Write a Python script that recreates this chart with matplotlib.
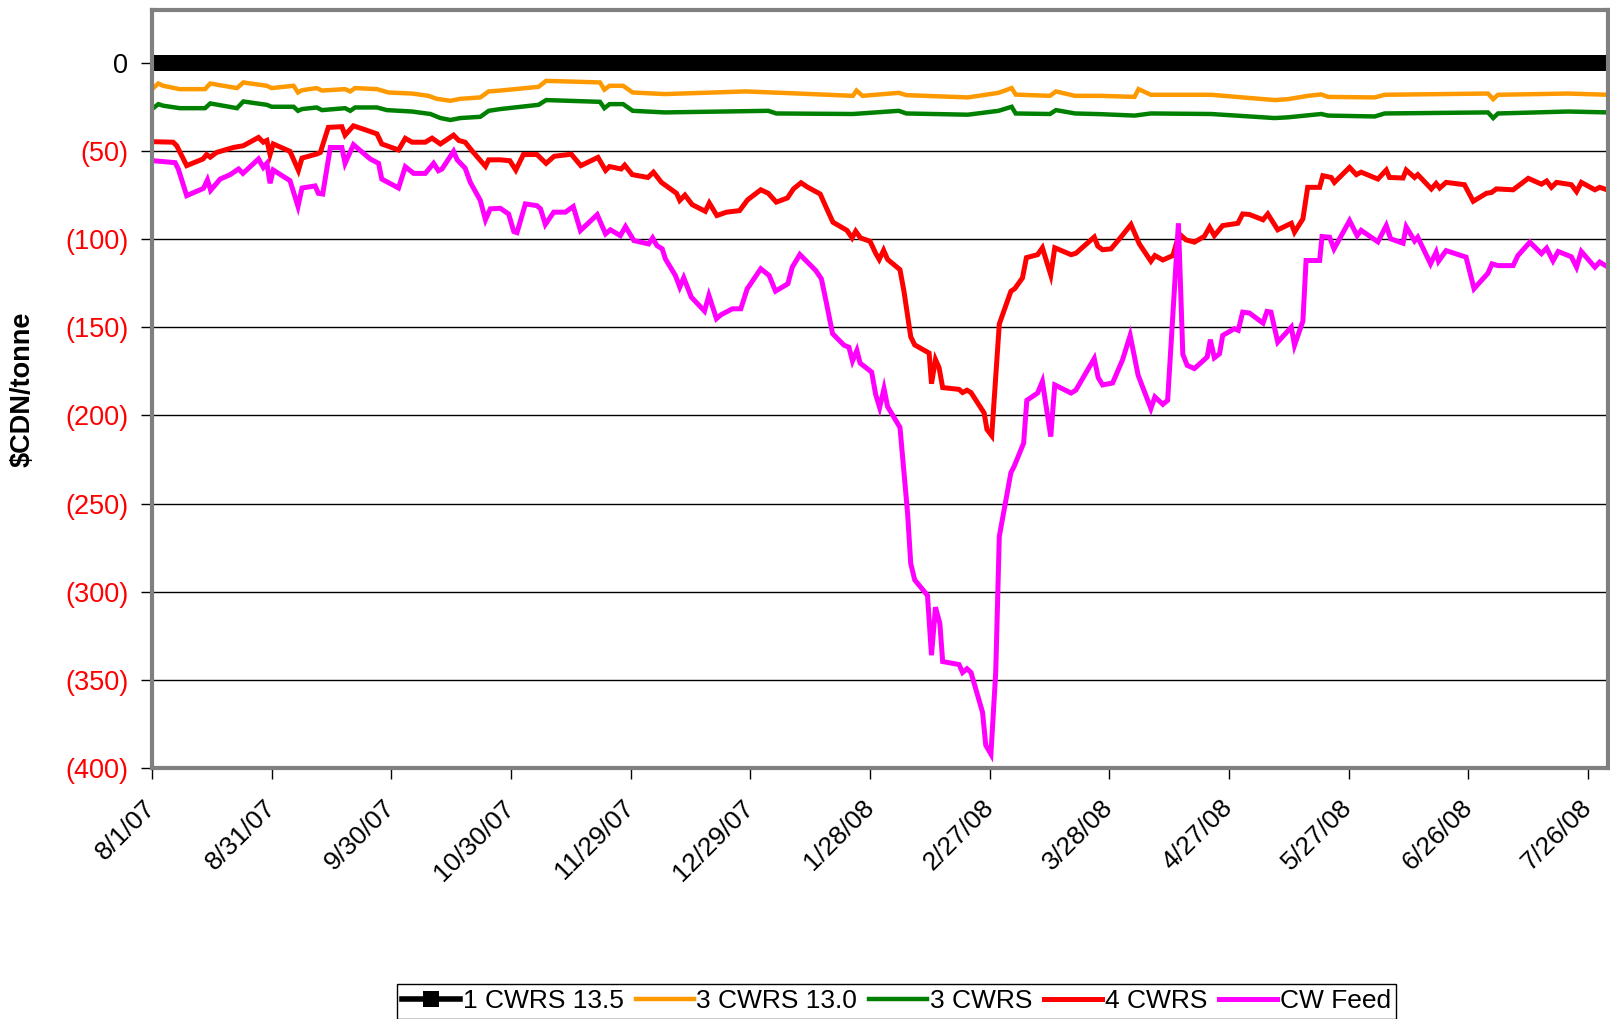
import matplotlib
matplotlib.use('Agg')
import matplotlib.pyplot as plt
import matplotlib.dates as mdates
import numpy as np
from datetime import date, timedelta

plt.rcParams['font.family'] = ['Liberation Sans', 'DejaVu Sans']

# Dates are given as days after 8/1/07
start = date(2007, 8, 1)

# 1 CWRS 13.5 is the base, always zero
base_day = np.arange(0, 366)
base_val = np.zeros(base_day.size)

# 3 CWRS 13.0
o_day = [0.3, 1.6, 2.8, 7, 13.3, 14.6, 21.3, 22.9, 28.8, 30, 35.5, 36.6, 37.6, 41.3, 42.6,
         48.4, 49.7, 50.9, 56.4, 59.3, 65.2, 69.3, 71.4, 74.8, 77.3, 82.3, 84.4, 87.3, 96.9,
         98.8, 112.3, 113.4, 114.7, 118.1, 120.5, 128.6, 148.8, 162.2, 175.7, 176.6, 178.1,
         187.2, 189.1, 204.5, 212.2, 215.5, 216.5, 225.1, 226.6, 231.4, 237.9, 246.3, 247.3,
         250.4, 265.5, 281.4, 284.7, 289.8, 293.1, 294.8, 306.5, 309, 334.9, 336.2, 337.4,
         355, 365]
o_val = [-14.3, -11.7, -13, -14.9, -14.9, -11.7, -14.3, -11.1, -13, -14.3, -13, -16.8, -15.5,
         -14.3, -15.7, -14.9, -16.2, -14.3, -14.9, -16.8, -17.4, -18.7, -20.4, -21.5, -20.4,
         -19.6, -16.2, -15.7, -13.6, -10.2, -11.1, -15.2, -13, -13, -16.8, -17.7, -16.2, -17.4,
         -18.7, -15.7, -18.7, -17, -18.3, -19.6, -17, -14.3, -18, -18.7, -16.2, -18.7, -18.7,
         -19.3, -14.9, -18.1, -18.1, -21.1, -20.6, -18.7, -17.9, -19.3, -19.6, -18.1, -17.4,
         -20.6, -18.1, -17.4, -18.1]

# 3 CWRS
g_day = [0.3, 1.6, 2.8, 7, 13.3, 14.6, 21.3, 22.9, 28.8, 30, 35.5, 36.6, 37.6, 41.3, 42.6,
         48.4, 49.7, 50.9, 56.4, 58.9, 65.2, 69.8, 72.3, 74.8, 77.3, 82.3, 84.4, 87.3, 96.9,
         98.8, 112.3, 113.4, 114.7, 118.1, 120.5, 128.6, 154.5, 156.5, 175.7, 187.2, 189.1,
         204.5, 212.2, 215.5, 216.5, 225.1, 226.6, 231.4, 237.9, 246.3, 250.4, 265.5, 281.4,
         284.7, 293.1, 294.8, 306.5, 309, 334.9, 336.2, 337.4, 355, 365]
g_val = [-25.7, -23.4, -24.3, -25.7, -25.7, -23, -25.7, -21.9, -23.8, -24.9, -24.9, -27.2,
         -26.2, -25.3, -26.8, -25.7, -27.2, -25.3, -25.3, -26.8, -27.6, -29, -31.3, -32.4,
         -31.3, -30.6, -27.2, -26.2, -23.8, -21.1, -22.1, -25.7, -23.4, -23.4, -27.2, -28.1,
         -27.2, -28.7, -29, -27.2, -28.7, -29.4, -27.2, -24.9, -28.7, -29, -26.8, -28.7, -29.1,
         -29.9, -28.7, -29, -31.3, -30.9, -29, -29.9, -30.4, -28.7, -28.1, -31.3, -28.7,
         -27.6, -28.1]

# 4 CWRS
r_day = [0, 5.3, 6.2, 8.7, 12.8, 13.7, 14.6, 16.2, 20.4, 22.9, 26.7, 27.9, 28.8, 29.6, 30.4,
         34.6, 36.7, 37.6, 41.3, 42.2, 44.2, 47.6, 48.4, 50.5, 53.9, 56.4, 57.6, 61.8, 63.5,
         65.2, 68.5, 70.2, 72.3, 75.6, 76.9, 78.5, 80.2, 83.6, 84.4, 87.3, 89.7, 91.2, 93.1,
         96.5, 98.8, 100.8, 105.1, 107.5, 111.8, 113.7, 114.7, 117.6, 118.5, 120.4, 124.3,
         125.7, 127.7, 131.5, 132.3, 133.6, 135.4, 138.7, 139.7, 141.6, 144, 147.3, 149.3,
         152.6, 154.5, 156.5, 159.3, 160.8, 162.7, 164.2, 167.5, 169, 170.7, 174.2, 175.5,
         176.4, 177.6, 180, 181.4, 182.3, 183.4, 184.4, 187.5, 188.5, 190.2, 191.2, 194.8,
         195.4, 196.4, 197.3, 198.2, 202.3, 203.2, 204.3, 205.3, 208.6, 209.3, 210.5, 212.4,
         215.3, 216.3, 218.2, 219.2, 222, 223.2, 225.3, 226.3, 230.4, 231.6, 236.2, 237.1,
         238.3, 240.4, 242.9, 245.4, 247.5, 250.4, 251.4, 253.4, 255.9, 257.5, 259.2, 261.3,
         263.8, 265.1, 266.3, 268.4, 272.2, 273.4, 275.1, 278.5, 279.7, 282.2, 285.6, 286.4,
         288.5, 289.7, 292.7, 293.5, 295.6, 296.4, 300.2, 301.9, 303.1, 307.3, 309.4, 310.2,
         313.6, 314.4, 316.5, 317.3, 320.7, 321.9, 322.8, 324.4, 329, 331.2, 334.5, 335.8,
         337, 341.2, 345, 348.3, 349.6, 350.8, 352.1, 355.8, 357.1, 358.3, 361.7, 362.9, 365]
r_val = [-44.7, -45, -47, -58.3, -54.5, -52, -53.5, -50.8, -48, -47, -42.3, -45, -44, -52, -46,
         -50.2, -61, -54, -51.7, -50.8, -36.6, -36.2, -41, -35.7, -38.3, -40.3, -46, -49.4,
         -42.8, -45, -45, -42.7, -46, -41, -44, -45, -49.8, -58.7, -55, -55, -55.5, -60.8,
         -52, -52, -57, -53, -51.8, -58.3, -53.6, -61, -58.8, -60.2, -58, -63.4, -65, -62,
         -67.8, -74, -78, -75, -80.4, -84.2, -79.5, -86.6, -84.7, -83.8, -77.7, -72, -74, -79,
         -76.6, -71.5, -68, -70.3, -74.4, -82, -90.4, -95, -99.3, -95.5, -99.3, -101.2, -108,
         -111.5, -106.3, -111.5, -117.3, -129.6, -155.4, -160, -164.6, -182, -168.3, -172.9,
         -184.2, -185.2, -187, -185.7, -187, -198.6, -207.9, -211.5, -148.1, -129.6, -128,
         -122, -110.5, -108.8, -104.9, -120.3, -104.9, -108.8, -108, -98.8, -104, -106,
         -105.5, -98.8, -91.7, -102.7, -112.5, -109.3, -111.8, -109.3, -97, -100.4, -101.7,
         -98.4, -93.2, -98, -92.3, -91, -85.7, -86, -89, -85.7, -94.7, -91, -96, -88.5, -70.6,
         -70.6, -64, -65, -67.8, -59.3, -63.4, -62, -65.9, -60.8, -65, -65.3, -60.8, -65,
         -63.4, -71.5, -68.4, -71, -67.8, -69.1, -78.5, -74, -73.5, -71.5, -72, -65.5, -68.8,
         -67, -70.6, -67.8, -69.1, -73, -67.8, -72, -70.6, -72.2]

# CW Feed
m_day = [0.3, 5.8, 6.6, 8.7, 12.9, 13.9, 14.7, 17.1, 19.6, 21.7, 22.8, 26.7, 27.9, 28.8, 29.6,
         30.4, 34.6, 36.6, 37.6, 40.9, 41.7, 42.8, 44.7, 47.6, 48.4, 50.5, 54.7, 56.8, 57.6,
         61.8, 63.5, 65.6, 68.5, 70.6, 71.8, 72.7, 75.6, 76.5, 78.5, 79.8, 82.3, 83.6, 84.8,
         87.3, 89.4, 90.7, 91.5, 93.6, 96.5, 97.4, 98.6, 100.7, 103.6, 105.6, 107.4, 111.6,
         113.7, 114.9, 117.4, 118.7, 120.8, 124.5, 125.5, 126.6, 127.9, 128.7, 131.2, 132.3,
         133.3, 135.2, 138.5, 139.6, 141.5, 142.7, 145.5, 147.6, 149.2, 152.6, 154.7, 156.3,
         159.4, 160.5, 162.4, 164.3, 166.4, 167.8, 169.1, 170.6, 173.5, 174.7, 175.6, 176.7,
         177.5, 180.4, 181.4, 182.4, 183.5, 184.4, 187.5, 188.4, 189.4, 190.2, 191.2, 194.4,
         195.4, 196.4, 197.5, 198.2, 202.3, 203.2, 204.3, 205.3, 208.2, 209, 210.3, 211.5,
         212.4, 215.3, 216.1, 218.5, 219.3, 222, 223.2, 225.3, 226.3, 230.4, 231.6, 236.2,
         237.2, 238.3, 240.8, 243.3, 245.2, 247.2, 250.4, 251.4, 253.4, 254.6, 257.3, 258.4,
         259.5, 261.3, 264.5, 265.3, 266.3, 267.6, 268.4, 271.3, 272.3, 273.4, 275.1, 278.5,
         279.5, 280.5, 282.2, 285.6, 286.4, 288.5, 289.3, 292.7, 293.3, 295.2, 296.3, 300.2,
         302.1, 303.1, 307.3, 309.4, 310.5, 313.6, 314.4, 316.5, 317.3, 320.5, 321.9, 322.5,
         324.4, 329.4, 331.4, 334.9, 335.9, 337.4, 341.2, 342.4, 345.4, 348.3, 349.6, 351.2,
         352.5, 355.8, 357.1, 358.3, 361.7, 362.9, 365]
m_val = [-55.5, -56.6, -60.2, -75.3, -71.2, -66.4, -72.3, -65.9, -63.4, -60.2, -62.7, -54.5,
         -59.3, -57, -68.3, -60.8, -66.8, -81.4, -71, -69.8, -74, -74.4, -48, -48, -57, -46.4,
         -54.5, -57, -65.9, -71, -58.9, -62.7, -62.7, -57, -61.2, -60.2, -50.2, -55, -59.7,
         -67.8, -78, -89, -82.8, -82.5, -85.7, -95.7, -96.3, -80, -81, -82.8, -91.7, -84.7,
         -84.7, -81.5, -95.1, -86.1, -97, -94.7, -98, -92.9, -100.8, -102.7, -99.3, -103.7,
         -105.5, -111.2, -120.6, -127.2, -121.9, -132.9, -140.8, -131.9, -145.1, -142.8,
         -139.5, -139.5, -128.2, -116.8, -120.6, -129.5, -125.3, -115.9, -108.7, -113, -117.8,
         -122.5, -136.6, -153.6, -160.2, -161.3, -169.1, -163.1, -170.3, -175.4, -188, -195.5,
         -184.8, -195, -206.8, -229.5, -255.2, -284, -293.3, -302.1, -336, -308.8, -318,
         -339.6, -341.3, -345.8, -343.7, -345.8, -368.4, -387, -392.1, -345.8, -268.6, -232.5,
         -229, -215.7, -191.4, -187.3, -180.7, -212, -182.7, -187.3, -185.6, -167.7, -178.6,
         -182.7, -181.6, -168.4, -154.6, -177.2, -196.1, -189.5, -193.7, -191.4, -91, -165.3,
         -171.6, -173.4, -166.9, -157, -167.3, -165, -154.6, -150.8, -151.7, -141.4, -141.9,
         -147.6, -141, -141.4, -158.4, -149.9, -160.2, -146.5, -112.1, -112.1, -98.5, -98.9,
         -105.5, -89.5, -98, -95, -101.5, -92.3, -99.8, -102.3, -93, -101, -98.9, -114,
         -107.4, -112.5, -106.5, -110.2, -128.1, -119.3, -114, -115, -115, -109.3, -101.7,
         -108.2, -105.1, -112.3, -107, -110, -115.9, -107, -115.9, -113, -115.9]

series_names = ['1 CWRS 13.5', '3 CWRS 13.0', '3 CWRS', '4 CWRS', 'CW Feed']
series_colors = ['#000000', '#FF9900', '#008000', '#FF0000', '#FF00FF']

t0 = mdates.date2num(start)
tick_dates = [start + timedelta(days=30 * k) for k in range(13)]
tick_labels = [f'{d.month}/{d.day}/{d.year % 100:02d}' for d in tick_dates]
y_ticks = list(range(-400, 1, 50))

fig = plt.figure(figsize=(16.1, 10.19), dpi=100)
ax = fig.add_axes([0.0944, 0.2463, 0.9044, 0.7439])

ax.grid(axis='y', color='black', linewidth=1)
ax.set_axisbelow(True)

handles = []
handles += ax.plot(t0 + base_day, base_val, color=series_colors[0], lw=4, marker='s',
                   markersize=11, markeredgewidth=0, label=series_names[0])
for d, v, c, n, w in [(o_day, o_val, series_colors[1], series_names[1], 3.2),
                      (g_day, g_val, series_colors[2], series_names[2], 3.2),
                      (r_day, r_val, series_colors[3], series_names[3], 3.6),
                      (m_day, m_val, series_colors[4], series_names[4], 3.6)]:
    handles += ax.plot(t0 + np.array(d), v, color=c, lw=w, label=n,
                       solid_joinstyle='miter')

ax.set_xlim(t0, t0 + 365)
ax.set_ylim(-400, 30)

ax.set_xticks([mdates.date2num(d) for d in tick_dates])
ax.set_xticklabels(tick_labels, rotation=45, ha='right', va='center',
                   rotation_mode='anchor', fontsize=19)
ax.tick_params(axis='x', length=8, width=1, pad=18, color='black')

ax.set_yticks(y_ticks)
ax.set_yticklabels(['0' if v == 0 else f'({-v})' for v in y_ticks], fontsize=19.5)
for lab, v in zip(ax.get_yticklabels(), y_ticks):
    lab.set_color('black' if v == 0 else '#FF0000')
ax.tick_params(axis='y', length=8, width=1, pad=9, color='black')

for s in ax.spines.values():
    s.set_color('#808080')
    s.set_linewidth(3)

ax.set_ylabel(r'\$CDN/tonne', fontsize=19.5, fontweight='bold')
ax.yaxis.set_label_coords(-0.08, 0.5)

fig.legend(handles=handles, loc='upper center', bbox_to_anchor=(0.5568, 0.0343),
           ncol=5, fontsize=19, frameon=True, fancybox=False, edgecolor='black',
           framealpha=1, handlelength=2.2, handletextpad=0.1, columnspacing=0.45,
           borderpad=0.2, numpoints=1, borderaxespad=0)

fig.savefig('out.png', dpi=100)
